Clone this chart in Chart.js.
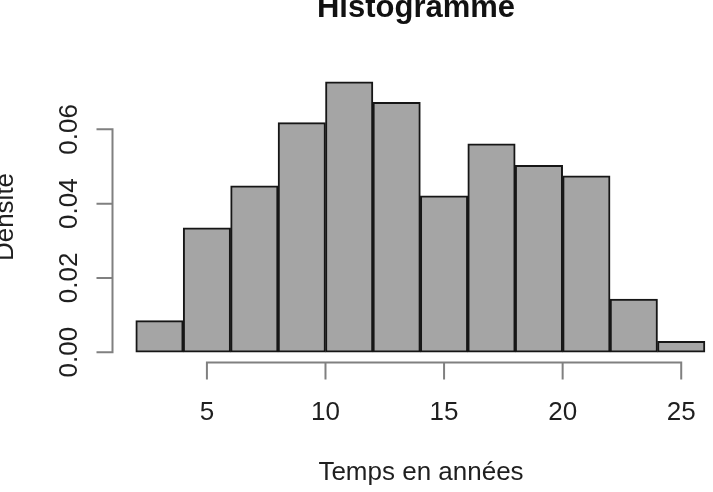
<!DOCTYPE html>
<html>
<head>
<meta charset="utf-8">
<title>Histogramme</title>
<script src="https://cdn.jsdelivr.net/npm/chart.js@4.4.0/dist/chart.umd.min.js"></script>
<style>
  html, body { margin: 0; padding: 0; background: #fff; }
</style>
</head>
<body>
<canvas id="histo" width="713" height="492"></canvas>
<script>
// classes de 2 ans, densites
var binStarts = [2, 4, 6, 8, 10, 12, 14, 16, 18, 20, 22, 24];
var binWidth = 2;
var densites = [0.0085, 0.0335, 0.0448, 0.0618, 0.0728, 0.0673, 0.0421, 0.0561, 0.0503, 0.0475, 0.0143, 0.0029];
var xTicks = [5, 10, 15, 20, 25];
var yTicks = [0, 0.02, 0.04, 0.06];
var yTickLabels = ["0.00", "0.02", "0.04", "0.06"];
var titre = "Histogramme";
var xLabel = "Temps en années";
var yLabel = "Densité";

var FONT = '"Liberation Sans", Arial, Helvetica, sans-serif';

// axes facon R (traces a la main avec les echelles de Chart.js)
var axesR = {
  id: 'axesR',
  afterDraw: function(chart) {
    var ctx = chart.ctx;
    var xs = chart.scales.x, ys = chart.scales.y;
    var area = chart.chartArea;
    ctx.save();

    ctx.strokeStyle = '#808080';
    ctx.lineWidth = 2;
    ctx.lineCap = 'butt';

    // axe y
    var xAxe = area.left - 0.5;
    ctx.beginPath();
    ctx.moveTo(xAxe, ys.getPixelForValue(yTicks[0]) + 1);
    ctx.lineTo(xAxe, ys.getPixelForValue(yTicks[yTicks.length - 1]) - 1);
    yTicks.forEach(function(t) {
      var p = ys.getPixelForValue(t);
      ctx.moveTo(xAxe + 1, p);
      ctx.lineTo(xAxe - 16, p);
    });
    ctx.stroke();

    // axe x
    var yAxe = area.bottom - 0.5;
    ctx.beginPath();
    ctx.moveTo(xs.getPixelForValue(xTicks[0]) - 1, yAxe);
    ctx.lineTo(xs.getPixelForValue(xTicks[xTicks.length - 1]) + 1, yAxe);
    xTicks.forEach(function(t) {
      var p = xs.getPixelForValue(t);
      ctx.moveTo(p, yAxe - 1);
      ctx.lineTo(p, yAxe + 17);
    });
    ctx.stroke();

    // textes
    ctx.fillStyle = '#1f1f1f';
    ctx.font = '26px ' + FONT;
    ctx.textAlign = 'center';
    ctx.textBaseline = 'alphabetic';
    xTicks.forEach(function(t) {
      ctx.fillText(String(t), xs.getPixelForValue(t), 420);
    });
    ctx.fillText(xLabel, 421, 480);

    yTicks.forEach(function(t, i) {
      ctx.save();
      ctx.translate(77, ys.getPixelForValue(t));
      ctx.rotate(-Math.PI / 2);
      ctx.fillText(yTickLabels[i], 0, 0);
      ctx.restore();
    });

    ctx.save();
    ctx.translate(13, (area.top + area.bottom) / 2);
    ctx.rotate(-Math.PI / 2);
    ctx.fillText(yLabel, 0, 0);
    ctx.restore();

    ctx.fillStyle = '#111';
    ctx.font = 'bold 31px ' + FONT;
    ctx.fillText(titre, 416, 17);

    ctx.restore();
  }
};

var points = binStarts.map(function(b, i) {
  return { x: b + binWidth / 2, y: densites[i] };
});

new Chart(document.getElementById('histo'), {
  type: 'bar',
  data: {
    datasets: [{
      label: yLabel,
      data: points,
      backgroundColor: '#a5a5a5',
      borderColor: '#161616',
      borderWidth: 2,
      borderSkipped: false,
      barPercentage: 1,
      categoryPercentage: 1
    }]
  },
  options: {
    responsive: false,
    animation: false,
    devicePixelRatio: 1,
    layout: { padding: { left: 113, right: 0, top: 71, bottom: 129 } },
    plugins: {
      legend: { display: false },
      tooltip: { enabled: false },
      title: { display: false }
    },
    scales: {
      x: { type: 'linear', min: 1.04, max: 26.34, offset: false, display: false },
      y: { min: -0.00292, max: 0.07572, display: false }
    }
  },
  plugins: [axesR]
});
</script>
</body>
</html>
